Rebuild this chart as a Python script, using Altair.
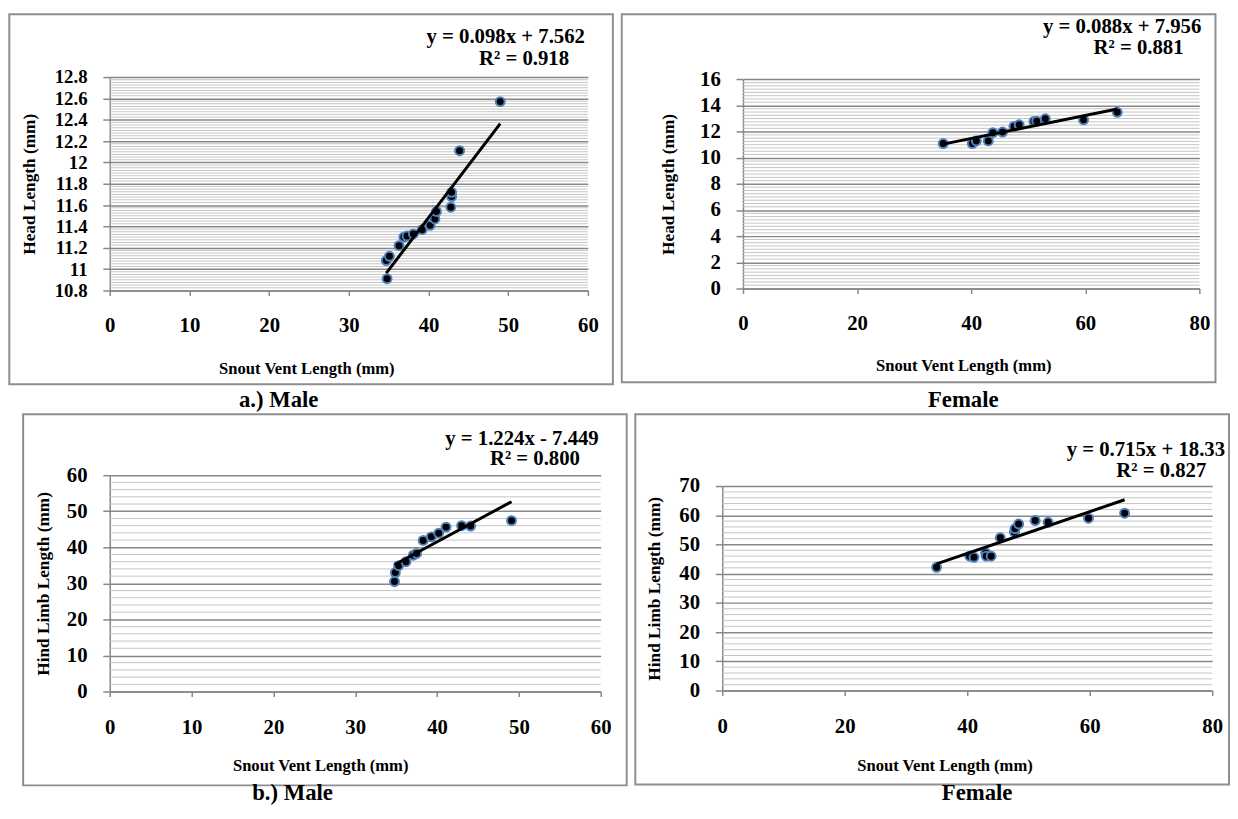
import altair as alt
import pandas as pd

FONT = "Liberation Serif"
GRID = "#878787"
MINOR = "#c4c4c4"
FRAME = "#8e8e8e"
PT_STROKE = "#4f81bd"

# ---------------- data ----------------
# a.) Male : Snout Vent Length vs Head Length
male_svl_head = [34.8, 34.7, 35.1, 36.3, 36.9, 37.3, 38.1, 39.2, 40.2, 40.8, 41.0, 42.8, 42.9, 42.9, 43.9, 49.0]
male_head = [10.91, 11.08, 11.12, 11.22, 11.30, 11.31, 11.33, 11.37, 11.41, 11.47, 11.54, 11.58, 11.68, 11.72, 12.11, 12.57]

# Female : Snout Vent Length vs Head Length
female_svl_head = [35.1, 40.2, 40.9, 43.0, 43.8, 45.5, 47.5, 48.4, 51.0, 51.5, 53.0, 59.7, 65.6]
female_head = [11.09, 11.09, 11.29, 11.29, 11.92, 11.97, 12.40, 12.52, 12.78, 12.80, 12.98, 12.90, 13.48]

# b.) Male : Snout Vent Length vs Hind Limb Length
male_svl_limb = [34.8, 34.9, 35.3, 36.2, 37.1, 37.5, 38.3, 39.3, 40.2, 41.1, 43.0, 44.1, 49.1]
male_limb = [30.5, 33.0, 34.9, 36.0, 37.8, 38.3, 41.9, 42.9, 43.9, 45.6, 46.0, 45.9, 47.4]

# Female : Snout Vent Length vs Hind Limb Length
female_svl_limb = [35.0, 40.4, 41.1, 43.0, 43.1, 43.9, 45.4, 47.7, 47.8, 48.4, 51.1, 53.2, 59.8, 65.7]
female_limb = [42.2, 46.0, 45.6, 47.1, 46.0, 46.0, 52.3, 54.2, 55.4, 57.0, 58.2, 57.6, 59.0, 60.7]

# trendline equations shown on the chart
slopes = [0.098, 0.088, 1.224, 0.715]
intercepts = [7.562, 7.956, -7.449, 18.33]
eq_texts = ["y = 0.098x + 7.562", "y = 0.088x + 7.956", "y = 1.224x - 7.449", "y = 0.715x + 18.33"]
r2_texts = ["R\u00b2 = 0.918", "R\u00b2 = 0.881", "R\u00b2 = 0.800", "R\u00b2 = 0.827"]
captions = ["a.) Male", "Female", "b.) Male", "Female"]
y_titles = ["Head Length (mm)", "Head Length (mm)", "Hind Limb Length (mm)", "Hind Limb Length (mm)"]
x_title = "Snout Vent Length (mm)"

# axis settings
x_domains = [[0, 60], [0, 80], [0, 60], [0, 80]]
x_ticks = [[0, 10, 20, 30, 40, 50, 60], [0, 20, 40, 60, 80], [0, 10, 20, 30, 40, 50, 60], [0, 20, 40, 60, 80]]
y_domains = [[10.8, 12.8], [0, 16], [0, 60], [0, 70]]
y_major = [0.2, 2, 10, 10]
minor_div = [8, 8, 5, 5]
y_label_size = [19, 21, 21, 21]

# layout of each panel: view size, top offset of the plot inside the view,
# frame offsets, spacer bottom, title/label positions (pixels, relative to view)
# e1 / e2 give the RIGHT edge and vertical centre of the two equation lines.
geo = [
    dict(w=484, h=216, top=0, L=101.7, R=25.3, T=63.7, S=340, xtx=199, xty=79, ytx=-81,
         e1=(481, -40), e2=(465, -18), cap=(171, 327)),
    dict(w=462, h=214, top=2.3, L=122.7, R=16.3, T=63.7, S=340, xtx=223, xty=78, ytx=-75,
         e1=(464, -51), e2=(446, -29), cap=(223, 327)),
    dict(w=497, h=219, top=0, L=87.7, R=26.3, T=61.6, S=318, xtx=213, xty=75, ytx=-67,
         e1=(495, -37), e2=(476, -16), cap=(185, 322)),
    dict(w=496, h=218, top=11, L=88, R=17, T=61.6, S=318, xtx=225, xty=76, ytx=-68,
         e1=(509, -25), e2=(490, -4), cap=(258, 322)),
]


def panel(i, xs, ys):
    g = geo[i]
    w, h, top = g["w"], g["h"], g["top"]
    pts = pd.DataFrame({"svl": xs, "val": ys})
    x0, x1 = min(xs), max(xs)
    line = pd.DataFrame({"svl": [x0, x1],
                         "val": [slopes[i] * x0 + intercepts[i], slopes[i] * x1 + intercepts[i]]})
    lo, hi = y_domains[i]
    step = y_major[i]
    n_major = int(round((hi - lo) / step))
    y_vals = [round(lo + k * step, 4) for k in range(n_major + 1)]
    div = minor_div[i]
    minor_vals = [round(lo + k * step / div, 5) for k in range(n_major * div + 1) if k % div != 0]

    xscale = alt.Scale(domain=x_domains[i], nice=False, zero=False)
    yscale = alt.Scale(domain=y_domains[i], nice=False, zero=False, range=[h, top])
    xaxis = alt.Axis(values=x_ticks[i], title=x_title, grid=False,
                     labelFont=FONT, labelFontSize=21, labelFontWeight="bold", labelColor="black",
                     labelPadding=20, labelFlush=False, labelOverlap=False,
                     tickSize=5, tickColor=GRID, tickWidth=1.5, domainColor=GRID, domainWidth=1.5,
                     titleFont=FONT, titleFontSize=16.8, titleFontWeight="bold", titleColor="black",
                     titleX=g["xtx"], titleY=g["xty"], titleAlign="center", titleBaseline="middle")
    yaxis = alt.Axis(values=y_vals, title=y_titles[i], format="~r", grid=True,
                     gridColor=GRID, gridWidth=1.5,
                     labelFont=FONT, labelFontSize=y_label_size[i], labelFontWeight="bold",
                     labelColor="black", labelPadding=16, labelFlush=False, labelOverlap=False,
                     tickSize=7, tickColor=GRID, tickWidth=1.5, domainColor=GRID, domainWidth=1.5,
                     titleFont=FONT, titleFontSize=17.5, titleFontWeight="bold", titleColor="black",
                     titleAngle=270, titleX=g["ytx"], titleY=top + (h - top) / 2, titleAlign="center",
                     titleBaseline="middle")
    X = alt.X("svl:Q", scale=xscale, axis=xaxis)
    Y = alt.Y("val:Q", scale=yscale, axis=yaxis)

    one = pd.DataFrame({"k": [0]})
    frame = alt.Chart(one).mark_rect(fill="white", fillOpacity=0, stroke=FRAME, strokeWidth=2).encode(
        x=alt.value(-g["L"]), x2=alt.value(w + g["R"]), y=alt.value(-g["T"]), y2=alt.value(h + 95))
    spacer = alt.Chart(one).mark_rect(fill="white", fillOpacity=0, strokeOpacity=0).encode(
        x=alt.value(-g["L"]), x2=alt.value(w), y=alt.value(-g["T"]), y2=alt.value(g["S"]))
    minor = alt.Chart(pd.DataFrame({"val": minor_vals})).mark_rule(color=MINOR, strokeWidth=1).encode(y=Y)
    points = alt.Chart(pts).mark_circle(size=82, color="black", opacity=1, stroke=PT_STROKE,
                                        strokeWidth=2).encode(x=X, y=Y)
    trend = alt.Chart(line).mark_line(color="black", strokeWidth=3).encode(x=X, y=Y)

    def txt(s, pos, size, align):
        return alt.Chart(one).mark_text(font=FONT, fontSize=size, fontWeight="bold", color="black",
                                        align=align, baseline="middle").encode(
            x=alt.value(pos[0]), y=alt.value(pos[1]), text=alt.value(s))

    return alt.layer(spacer, frame, minor, points, trend,
                     txt(eq_texts[i], g["e1"], 21, "right"), txt(r2_texts[i], g["e2"], 21, "right"),
                     txt(captions[i], g["cap"], 23, "center")).properties(width=w, height=h)


p1 = panel(0, male_svl_head, male_head)
p2 = panel(1, female_svl_head, female_head)
p3 = panel(2, male_svl_limb, male_limb)
p4 = panel(3, female_svl_limb, female_limb)

chart = alt.vconcat(
    alt.hconcat(p1, p2, spacing=6),
    alt.hconcat(p3, p4, spacing=6),
    spacing=0,
).properties(padding=0, background="white").configure_view(stroke=None)

chart.save("out.html", embed_options={"renderer": "svg", "actions": False})
